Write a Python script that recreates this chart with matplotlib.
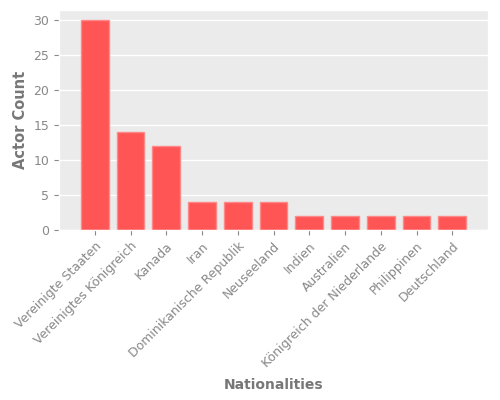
import matplotlib
matplotlib.use("Agg")
import matplotlib.pyplot as plt

plt.style.use("ggplot")

nationalities = ["Vereinigte Staaten", "Vereinigtes Königreich", "Kanada", "Iran",
                 "Dominikanische Republik", "Neuseeland", "Indien", "Australien",
                 "Königreich der Niederlande", "Philippinen", "Deutschland"]
counts = [30, 14, 12, 4, 4, 4, 2, 2, 2, 2, 2]

fig = plt.figure(figsize=(5, 4), dpi=100)
ax = fig.add_axes([0.118, 0.425, 0.858, 0.55])
ax.set_facecolor("#EBEBEB")
x = list(range(len(nationalities)))
ax.bar(x, counts, width=0.78, color="#FF5555", edgecolor="#FF8888", linewidth=1)
ax.set_xlim(-1, len(nationalities))
ax.set_ylim(0, 31.5)
ax.set_xticks(x)
ax.set_xticklabels(nationalities, rotation=45, ha="right", rotation_mode="anchor")
ax.tick_params(colors="#888888", labelsize=9)
for t in ax.get_xticklabels() + ax.get_yticklabels():
    t.set_color("#888888")
ax.set_xlabel("Nationalities", fontsize=10, fontweight="bold", color="#777777", labelpad=6)
ax.set_ylabel("Actor Count", fontsize=10.5, fontweight="bold", color="#777777")
ax.grid(axis="x", visible=False)
ax.grid(axis="y", color="white", linewidth=1)
fig.savefig("out.png", dpi=100)
